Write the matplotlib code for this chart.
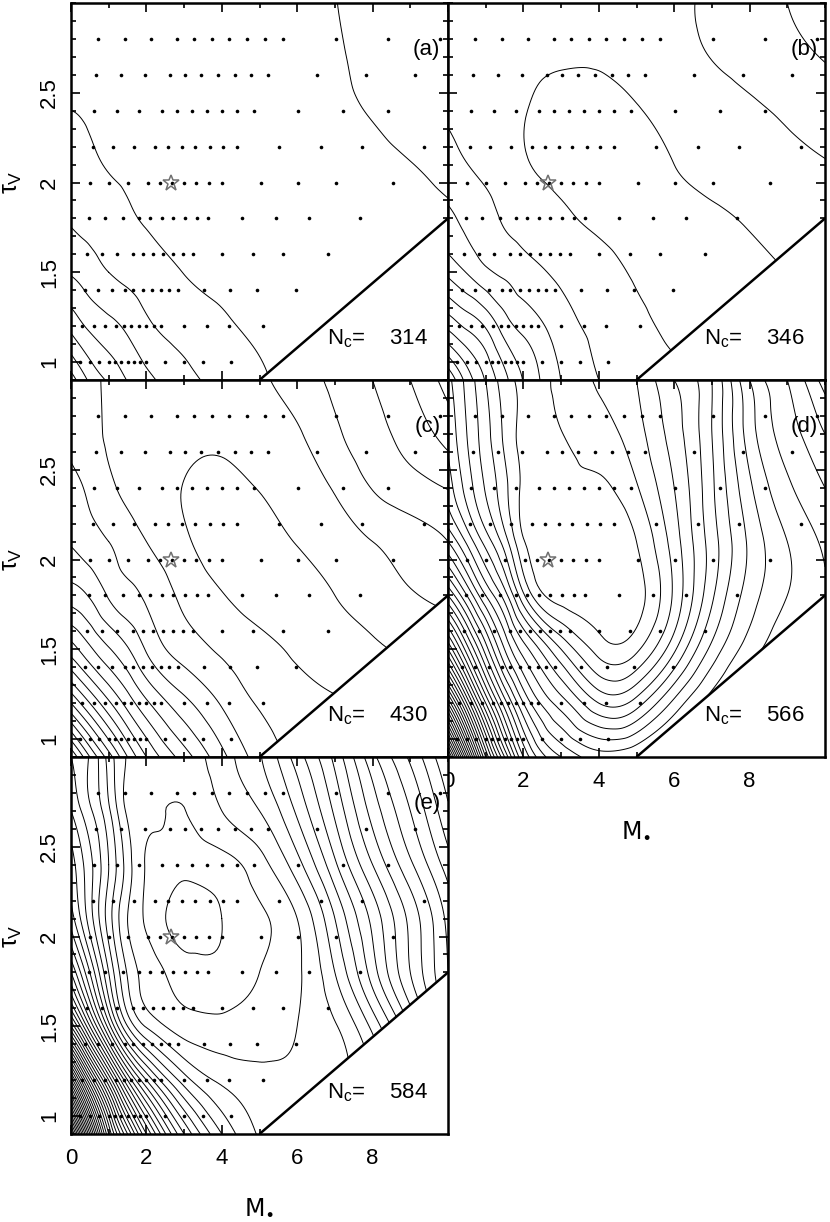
import numpy as np
import matplotlib
matplotlib.use("Agg")
import matplotlib.pyplot as plt
import matplotlib.tri as mtri
from matplotlib.ticker import MultipleLocator

plt.rcParams['font.family'] = ['Liberation Sans', 'DejaVu Sans']
plt.rcParams['mathtext.fontset'] = 'custom'
plt.rcParams['mathtext.rm'] = 'Liberation Sans'
plt.rcParams['mathtext.it'] = 'Liberation Sans'
plt.rcParams['mathtext.bf'] = 'Liberation Sans:bold'

# nodes of the estimated fit surfaces (contour index units)
grid_x = [0, 0.5, 1, 1.5, 2, 3, 4, 5, 6, 7, 8, 9, 10]
grid_y = [0.9, 1.2, 1.5, 1.8, 2.1, 2.4, 2.7, 3.0]

surf_a = [
    [7.5, 5.8, 4.85, 3.95, 3.3, 2.3, 1.65, 1.1, 0.85, 0.75, 0.75, 0.8, 0.85],
    [4.7, 3.8, 3.3, 2.8, 2.2, 1.6, 1.15, 0.85, 0.7, 0.65, 0.7, 0.75, 0.8],
    [2.9, 2.45, 2.0, 1.75, 1.5, 0.98, 0.75, 0.6, 0.55, 0.55, 0.6, 0.7, 0.8],
    [1.9, 1.65, 1.4, 1.15, 0.9, 0.65, 0.5, 0.45, 0.45, 0.5, 0.6, 0.75, 0.9],
    [1.45, 1.15, 0.95, 0.84, 0.73, 0.55, 0.45, 0.4, 0.45, 0.6, 0.8, 0.98, 1.2],
    [1.0, 0.92, 0.82, 0.72, 0.63, 0.47, 0.4, 0.4, 0.5, 0.8, 1.05, 1.3, 1.5],
    [0.8, 0.75, 0.7, 0.63, 0.57, 0.47, 0.42, 0.45, 0.6, 0.9, 1.22, 1.5, 1.7],
    [0.65, 0.62, 0.6, 0.57, 0.55, 0.5, 0.5, 0.55, 0.7, 0.98, 1.25, 1.45, 1.6],
]
surf_b = [
    [12, 9.6, 7.9, 6.3, 4.95, 2.98, 2.0, 1.4, 1.1, 1.0, 1.0, 1.05, 1.1],
    [7.75, 6.8, 5.9, 4.5, 3.7, 2.45, 1.75, 1.2, 0.9, 0.85, 0.9, 1.0, 1.1],
    [4.75, 3.95, 3.2, 2.8, 2.4, 1.8, 1.35, 0.9, 0.75, 0.75, 0.85, 1.0, 1.1],
    [3.2, 2.75, 2.3, 1.9, 1.6, 1.15, 0.85, 0.72, 0.75, 0.85, 1.1, 1.35, 1.55],
    [2.4, 2.02, 1.75, 1.45, 1.1, 0.8, 0.7, 0.75, 1.0, 1.3, 1.55, 1.75, 1.95],
    [1.9, 1.7, 1.5, 1.3, 1.05, 0.8, 0.75, 0.95, 1.25, 1.55, 1.85, 2.15, 2.5],
    [1.75, 1.65, 1.5, 1.35, 1.2, 1.08, 1.1, 1.3, 1.6, 2.03, 2.35, 2.7, 3.05],
    [1.6, 1.55, 1.5, 1.45, 1.4, 1.3, 1.3, 1.4, 1.75, 2.2, 2.6, 3.0, 3.4],
]
surf_c = [
    [19, 16, 13.5, 11, 9, 6.5, 4.3, 2.6, 1.9, 1.6, 1.5, 1.5, 1.5],
    [13, 11, 9.2, 7.6, 6.2, 4.3, 2.9, 1.9, 1.4, 1.1, 1.1, 1.2, 1.3],
    [8.5, 7.2, 6.1, 5.1, 3.9, 2.55, 1.85, 1.3, 0.85, 0.7, 0.9, 1.1, 1.3],
    [5.5, 4.9, 3.9, 3.3, 2.85, 1.75, 1.05, 0.6, 0.6, 1.0, 1.45, 1.9, 2.3],
    [3.9, 3.4, 3.0, 2.45, 2.0, 1.15, 0.6, 0.6, 1.05, 1.5, 2.0, 2.5, 3.0],
    [3.3, 2.8, 2.2, 1.8, 1.5, 0.97, 0.75, 1.05, 1.5, 2.1, 3.05, 3.6, 4.05],
    [2.7, 2.25, 1.9, 1.65, 1.45, 1.25, 1.2, 1.5, 1.9, 2.8, 3.65, 4.4, 5.4],
    [2.4, 2.15, 1.9, 1.7, 1.55, 1.4, 1.45, 1.85, 2.45, 3.25, 4.0, 5.0, 6.4],
]
surf_d = [
    [45, 35, 26, 20, 15, 11, 9.5, 10, 11, 12, 12.5, 13, 13.5],
    [32, 25, 19, 14.5, 11, 7.5, 5, 5.5, 8.3, 10.5, 11.8, 12.5, 13],
    [22, 17.5, 13.5, 10, 7.5, 4.0, 1.6, 1.8, 4.8, 8.3, 10.5, 11.8, 12.5],
    [15, 12, 9, 6.5, 3.2, 0.6, 0.4, 0.6, 3.2, 6.8, 9.5, 11, 12],
    [10, 7.8, 5.6, 3.5, 1.1, 0.5, 0.4, 1.0, 3.5, 6.5, 9.2, 11, 12.2],
    [7.5, 5.6, 3.9, 2.3, 0.75, 0.5, 0.8, 1.9, 4.0, 6.8, 9.8, 11.8, 13],
    [6.8, 5.0, 3.4, 1.8, 0.7, 0.95, 1.6, 2.6, 4.5, 7.0, 10.5, 12.5, 14],
    [6.3, 4.7, 3.0, 1.5, 0.75, 1.35, 2.05, 3.0, 5.0, 7.0, 11, 13, 15.5],
]
surf_e = [
    [50, 38, 28, 22, 17, 10, 6, 3.9, 3.7, 4, 5, 8, 12],
    [36, 27, 20, 14, 10, 5.5, 3.8, 3.3, 3.2, 3.6, 5, 8, 12],
    [22, 16, 10.5, 6, 3.9, 2.5, 2.3, 2.5, 3.0, 3.9, 6.3, 10, 14],
    [15, 11, 7, 3.9, 2.6, 1.5, 1.3, 2.0, 2.85, 5.0, 8.5, 12, 15],
    [11.5, 8.5, 5.5, 3.0, 1.85, 0.5, 1.0, 1.85, 3.0, 6.0, 9.3, 12.3, 15.3],
    [10.5, 8.3, 6, 3.5, 1.9, 1.3, 1.6, 2.6, 4.6, 7.8, 11, 13.8, 16.5],
    [9, 7.2, 5.2, 2.8, 2.15, 1.98, 3.0, 4.0, 6.2, 9.2, 12.4, 15, 17.8],
    [8, 6.9, 4.6, 2.9, 2.5, 2.6, 3.6, 4.9, 7.5, 10.3, 13.7, 16.2, 19],
]
surfaces = [surf_a, surf_b, surf_c, surf_d, surf_e]
panel_tags = ['(a)', '(b)', '(c)', '(d)', '(e)']
n_c = [314, 346, 430, 566, 584]

# model grid points
dot_y = [1.0, 1.2, 1.4, 1.6, 1.8, 2.0, 2.2, 2.4, 2.6, 2.8]
dot_x = [
    [0.25, 0.5, 0.75, 1.0, 1.17, 1.33, 1.5, 1.67, 1.83, 2.0, 2.5, 3.0, 3.5, 4.25],
    [0.3, 0.6, 0.9, 1.2, 1.4, 1.6, 1.8, 2.0, 2.2, 2.4, 3.0, 3.6, 4.2, 5.1],
    [0.37, 0.72, 1.08, 1.43, 1.65, 1.9, 2.14, 2.38, 2.61, 2.85, 3.53, 4.22, 4.93, 5.97],
    [0.43, 0.81, 1.23, 1.64, 1.9, 2.17, 2.43, 2.7, 2.96, 3.23, 4.01, 4.82, 5.62, 6.83],
    [0.49, 0.9, 1.37, 1.81, 2.1, 2.41, 2.71, 3.02, 3.33, 3.64, 4.53, 5.43, 6.32, 7.67],
    [0.5, 1.02, 1.52, 2.03, 2.36, 2.67, 3.0, 3.32, 3.66, 4.0, 5.03, 6.03, 7.02, 8.53],
    [0.59, 1.12, 1.68, 2.23, 2.58, 2.94, 3.29, 3.69, 4.04, 4.41, 5.53, 6.62, 7.71, 9.36],
    [0.61, 1.21, 1.81, 2.42, 2.8, 3.2, 3.6, 4.0, 4.4, 4.85, 6.01, 7.22, 8.42],
    [0.66, 1.32, 1.96, 2.62, 3.03, 3.46, 3.91, 4.35, 4.77, 5.22, 6.52, 7.83, 9.13],
    [0.71, 1.43, 2.12, 2.82, 3.27, 3.73, 4.19, 4.67, 5.15, 5.62, 7.02, 8.42, 9.8],
]
star_x, star_y = 2.65, 2.0
bound_x = [5.0, 10.0]
bound_y = [0.9, 1.8]
levels = np.arange(1, 80)

W, H = 830, 1222
fig = plt.figure(figsize=(W / 100, H / 100), dpi=100)

# panel boxes in pixels: left, top
boxes = [(71, 3), (448, 3), (71, 380), (448, 380), (71, 757)]
pw, ph = 377, 377

gx, gy = np.meshgrid(grid_x, grid_y)
yscale = 10 / 2.1

for i, (left, top) in enumerate(boxes):
    ax = fig.add_axes([left / W, 1 - (top + ph) / H, pw / W, ph / H])
    z = np.array(surfaces[i], dtype=float).ravel()

    tri = mtri.Triangulation(gx.ravel(), (gy.ravel() - 0.9) * yscale)
    interp = mtri.CubicTriInterpolator(tri, z, kind='min_E')
    refiner = mtri.UniformTriRefiner(tri)
    tri_f, z_f = refiner.refine_field(z, triinterpolator=interp, subdiv=4)
    tri_plot = mtri.Triangulation(tri_f.x, tri_f.y / yscale + 0.9, tri_f.triangles)
    ax.tricontour(tri_plot, z_f, levels=levels, colors='k', linewidths=0.7, zorder=2)

    # blank region below the limit line
    ax.fill_between(bound_x, [0.85, 0.85], bound_y, color='white', zorder=3)
    ax.plot(bound_x, bound_y, color='k', lw=1.8, zorder=4, solid_capstyle='butt')

    for yy, xs in zip(dot_y, dot_x):
        ax.plot(xs, [yy] * len(xs), 'o', ms=2.6, color='k', mew=0, zorder=5)
    ax.plot([star_x], [star_y], marker='*', ms=12, mfc='none', mec='#707070', mew=1.1, zorder=6)

    ax.text(9.8, 2.74, panel_tags[i], ha='right', va='center', fontsize=16, zorder=7)
    ax.text(6.8, 1.13, r'$\mathrm{N_c}$=    %d' % n_c[i], ha='left', va='center', fontsize=16, zorder=7)

    ax.set_xlim(0, 10)
    ax.set_ylim(0.9, 3.0)
    ax.set_xticks([0, 2, 4, 6, 8])
    ax.xaxis.set_minor_locator(MultipleLocator(1))
    ax.set_yticks([1, 1.5, 2, 2.5])
    ax.yaxis.set_minor_locator(MultipleLocator(0.1))
    ax.tick_params(which='both', direction='in', top=True, right=True, width=1.2, labelsize=16)
    ax.tick_params(which='major', length=6.5)
    ax.tick_params(which='minor', length=3.6)
    for sp in ax.spines.values():
        sp.set_linewidth(1.8)
        sp.set_zorder(8)

    if i in (3, 4):
        ax.set_xticklabels(['0', '2', '4', '6', '8'])
        ax.tick_params(axis='x', pad=10)
        ax.set_xlabel(r'$\mathrm{M}_{\bullet}$', fontsize=17, labelpad=20,
                      math_fontfamily='dejavusans')
    else:
        ax.set_xticklabels([])
    if i in (0, 2, 4):
        ax.set_yticklabels(['1', '1.5', '2', '2.5'], rotation=90, va='center')
        ax.tick_params(axis='y', pad=8)
        ax.set_ylabel(r'$\tau_V$', fontsize=18, rotation=90, labelpad=6)
        ax.yaxis.set_label_coords(-0.125, (2.0 - 0.9) / 2.1)
    else:
        ax.set_yticklabels([])

fig.savefig('out.png', dpi=100)
